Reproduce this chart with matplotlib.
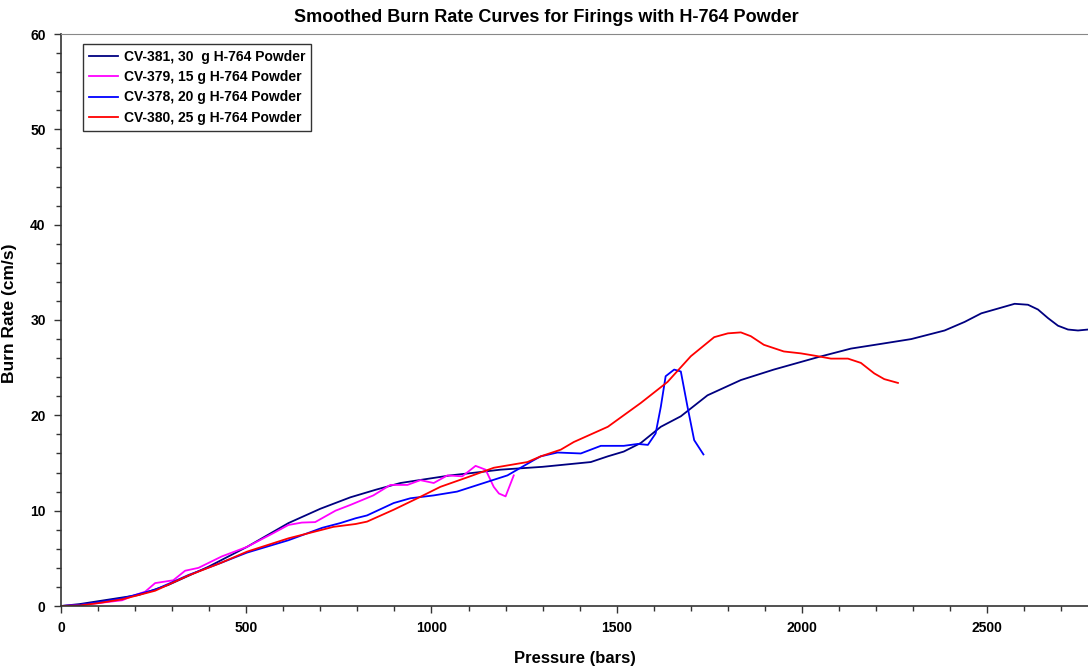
import matplotlib
matplotlib.use("Agg")
import matplotlib.pyplot as plt
from matplotlib.ticker import MultipleLocator

plt.rcParams['font.family'] = ['Liberation Sans', 'DejaVu Sans']
plt.rcParams['font.weight'] = 'bold'

# CV-381, 30 g
navy_p = [0, 50, 100, 150, 209, 289, 397, 502, 614, 700, 781, 850, 916, 1000, 1051, 1120,
          1186, 1300, 1430, 1476, 1519, 1565, 1619, 1673, 1745, 1835, 1924, 2043, 2132, 2214,
          2295, 2385, 2439, 2484, 2529, 2574, 2610, 2637, 2664, 2691, 2718, 2745, 2772]
navy_r = [0, 0.2, 0.5, 0.8, 1.15, 2.2, 4.1, 6.2, 8.7, 10.2, 11.4, 12.2, 12.9, 13.4, 13.7, 14.0,
          14.3, 14.6, 15.1, 15.7, 16.2, 17.1, 18.8, 19.9, 22.1, 23.7, 24.8, 26.1, 27.0, 27.5,
          28.0, 28.9, 29.8, 30.7, 31.2, 31.7, 31.6, 31.1, 30.2, 29.4, 29.0, 28.9, 29.0]

# CV-379, 15 g
mag_p = [0, 50, 100, 165, 200, 227, 254, 303, 335, 371, 434, 502, 571, 614, 650, 686, 741,
         781, 843, 889, 935, 970, 1006, 1043, 1083, 1119, 1146, 1168, 1182, 1200, 1214, 1222]
mag_r = [0, 0.1, 0.3, 0.6, 1.15, 1.5, 2.4, 2.7, 3.7, 4.0, 5.2, 6.2, 7.6, 8.5, 8.75, 8.8, 10.0,
         10.6, 11.6, 12.7, 12.7, 13.2, 12.9, 13.7, 13.6, 14.7, 14.3, 12.5, 11.8, 11.5, 12.9, 13.7]

# CV-378, 20 g
blue_p = [0, 50, 100, 165, 254, 344, 430, 502, 614, 705, 754, 795, 826, 898, 943, 1006, 1069,
          1141, 1205, 1276, 1295, 1340, 1403, 1457, 1519, 1557, 1584, 1605, 1619, 1632, 1655,
          1673, 1691, 1709, 1734]
blue_r = [0, 0.1, 0.4, 0.8, 1.7, 3.25, 4.5, 5.6, 6.9, 8.2, 8.7, 9.2, 9.5, 10.8, 11.3, 11.6, 12.0,
          12.9, 13.7, 15.3, 15.7, 16.1, 16.0, 16.8, 16.8, 17.0, 16.9, 18.1, 20.9, 24.1, 24.8,
          24.6, 20.9, 17.4, 15.9]

# CV-380, 25 g
red_p = [0, 50, 100, 165, 254, 344, 430, 502, 614, 705, 735, 795, 826, 898, 962, 1024, 1097,
         1168, 1259, 1295, 1349, 1384, 1476, 1565, 1637, 1700, 1763, 1800, 1835, 1862, 1897,
         1951, 1997, 2043, 2078, 2124, 2159, 2195, 2222, 2259]
red_r = [0, 0.05, 0.3, 0.7, 1.6, 3.2, 4.5, 5.7, 7.1, 8.0, 8.3, 8.6, 8.85, 10.1, 11.3, 12.5, 13.5,
         14.5, 15.1, 15.7, 16.4, 17.2, 18.8, 21.3, 23.5, 26.2, 28.2, 28.6, 28.7, 28.3, 27.4,
         26.7, 26.5, 26.2, 25.95, 25.95, 25.5, 24.4, 23.8, 23.4]

labels = ['CV-381, 30  g H-764 Powder', 'CV-379, 15 g H-764 Powder',
          'CV-378, 20 g H-764 Powder', 'CV-380, 25 g H-764 Powder']

fig = plt.figure(figsize=(10.88, 6.69), dpi=100)
ax = fig.add_axes([61 / 1088, 1 - 606 / 669, 1 - 61 / 1088, (606 - 34) / 669])

ax.plot(navy_p, navy_r, color='#000080', lw=1.3, label=labels[0])
ax.plot(mag_p, mag_r, color='#FF00FF', lw=1.3, label=labels[1])
ax.plot(blue_p, blue_r, color='#0000FF', lw=1.3, label=labels[2])
ax.plot(red_p, red_r, color='#FF0000', lw=1.3, label=labels[3])

ax.set_xlim(0, 2772)
ax.set_ylim(0, 60)
ax.xaxis.set_major_locator(MultipleLocator(500))
ax.xaxis.set_minor_locator(MultipleLocator(100))
ax.yaxis.set_major_locator(MultipleLocator(10))
ax.yaxis.set_minor_locator(MultipleLocator(2))
ax.tick_params(which='major', direction='out', length=5, width=1, labelsize=10,
               color='#333333')
ax.tick_params(axis='x', which='major', pad=6)
ax.tick_params(axis='y', which='major', pad=6)
ax.tick_params(which='minor', direction='out', length=3.5, width=1, color='#333333')

for s in ['left', 'bottom']:
    ax.spines[s].set_color('#333333')
    ax.spines[s].set_linewidth(1.2)
ax.spines['top'].set_color('#888888')
ax.spines['right'].set_visible(False)

ax.set_xlabel('Pressure (bars)', fontsize=12, fontweight='bold', labelpad=11)
ax.set_ylabel('Burn Rate (cm/s)', fontsize=12.5, fontweight='bold')
ax.yaxis.set_label_coords(-0.043, 0.512)
fig.text(0.502, 0.974, 'Smoothed Burn Rate Curves for Firings with H-764 Powder',
         ha='center', va='center', fontsize=13, fontweight='bold')

leg = ax.legend(loc='upper left', bbox_to_anchor=(0.021, 0.983), fontsize=10,
                frameon=True, fancybox=False, handlelength=2.1, borderpad=0.45,
                labelspacing=0.45, handletextpad=0.4, borderaxespad=0)
leg.get_frame().set_edgecolor('black')
leg.get_frame().set_linewidth(1.0)
for t in leg.get_texts():
    t.set_fontweight('bold')

fig.savefig('out.png', dpi=100)
